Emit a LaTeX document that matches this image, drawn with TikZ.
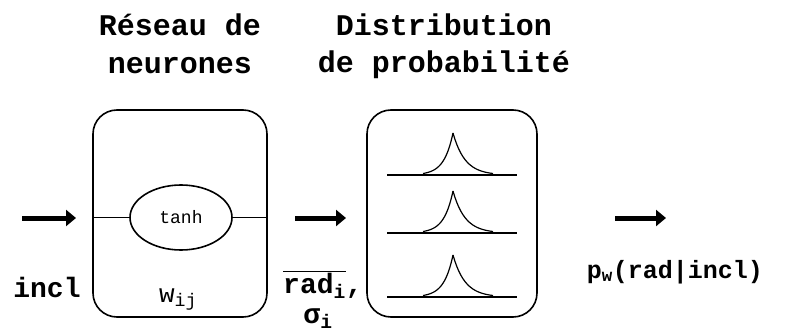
\documentclass[tikz,border=0pt]{standalone}
\usepackage{fontspec}
\setmainfont{Liberation Mono}
\usetikzlibrary{shapes.geometric,arrows.meta,positioning}

\tikzset{
    box/.style={draw,line width=1.6pt,rounded corners=24pt,minimum height=207pt},
    fat/.style={line width=5pt,-{Triangle[length=10pt,width=16pt]}},
    ttl/.style={anchor=base,font=\fontsize{30}{36}\selectfont\bfseries},
    lbl/.style={anchor=base,font=\fontsize{28}{34}\selectfont\bfseries},
}

\begin{document}
\begin{tikzpicture}[x=1pt,y=1pt]
        \useasboundingbox (0,0) rectangle (788,333);

        % titles
        \node[ttl] (t1a) at (180,298) {Réseau de};
        \node[ttl] (t1b) at (180,260) {neurones};
        \node[ttl] (t2a) at (444,298) {Distribution};
        \node[ttl] (t2b) at (444,261) {de probabilité};

        % the two boxes
        \node[box,minimum width=174pt] (net) at (180,119.5) {};
        \node[box,minimum width=170pt] (dist) at (452,119.5) {};

        % neuron
        \node[draw,ellipse,line width=1.6pt,minimum width=102pt,minimum height=65pt,
              font=\fontsize{18}{20}\selectfont] (tanh) at (181,115.5) {tanh};
        \draw[line width=1.2pt] (net.west |- tanh) -- (tanh.west);
        \draw[line width=1.2pt] (tanh.east) -- (net.east |- tanh);

        % peaks
        \foreach \b in {158,100,36} {
            \draw[line width=1.2pt] (387,\b) -- (517,\b);
            \draw[line width=1.2pt,domain=-30:0,samples=40,smooth,variable=\x]
                plot ({453+\x},{\b+42*exp(\x/9)});
            \draw[line width=1.2pt,domain=0:40,samples=40,smooth,variable=\x]
                plot ({453+\x},{\b+42*exp(-\x/12)});
        }

        % arrows
        \coordinate (a1) at (22,115);
        \coordinate (b1) at (76,115);
        \coordinate (a2) at (295,115);
        \coordinate (b2) at (346,115);
        \coordinate (a3) at (615,115);
        \coordinate (b3) at (666,115);
        \draw[fat] (a1) -- (b1);
        \draw[fat] (a2) -- (b2);
        \draw[fat] (a3) -- (b3);

        % labels
        \node[lbl] (incl) at (47,36) {incl};
        \node[anchor=base,font=\fontsize{26}{30}\selectfont] (wij) at (178,31) {w\textsubscript{ij}};
        \node[lbl,anchor=base west,inner sep=0pt] (rad) at (283,40) {$\overline{\mbox{rad\textsubscript{i}}}$,};
        \node[lbl,inner sep=1pt] (sig) at (318,10) {σ\textsubscript{i}};
        \node[lbl,font=\fontsize{25}{30}\selectfont\bfseries] (pw) at (675,55) {p\textsubscript{w}(rad|incl)};
    \end{tikzpicture}
\end{document}
